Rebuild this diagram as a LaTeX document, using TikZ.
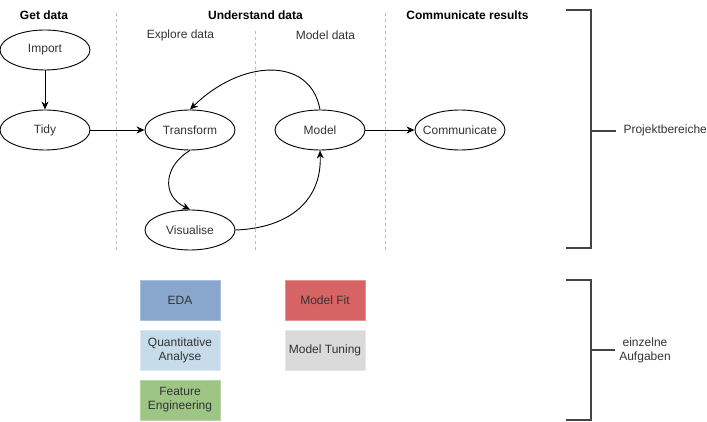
\documentclass[tikz,border=0pt]{standalone}
\usepackage{fontspec}
\setmainfont{Liberation Sans}
\usetikzlibrary{shapes.geometric,arrows.meta}
\definecolor{txt}{HTML}{333333}
\definecolor{edafill}{HTML}{89A6CC}
\definecolor{edadraw}{HTML}{A9C0DD}
\definecolor{qafill}{HTML}{C7DCEB}
\definecolor{qadraw}{HTML}{DCE8F2}
\definecolor{fefill}{HTML}{9DC684}
\definecolor{fedraw}{HTML}{B8D6A4}
\definecolor{mffill}{HTML}{D66464}
\definecolor{mfdraw}{HTML}{E49494}
\definecolor{mtfill}{HTML}{DADADA}
\definecolor{mtdraw}{HTML}{E8E8E8}
\definecolor{brk}{HTML}{444444}
\definecolor{dashc}{HTML}{BBBBBB}
\tikzset{
  stage/.style={ellipse,draw=black,line width=0.9pt,minimum width=90pt,minimum height=40pt,inner sep=0pt,font=\fontsize{12}{14}\selectfont,text=txt},
  title/.style={font=\fontsize{12}{14}\selectfont\bfseries,text=black},
  sub/.style={font=\fontsize{12}{14}\selectfont,text=txt},
  task/.style={rectangle,line width=0.8pt,minimum width=80pt,minimum height=40pt,inner sep=0pt,align=center,font=\fontsize{12}{14}\selectfont,text=txt},
  flow/.style={line width=0.9pt,-{Stealth[length=8pt,width=7pt,inset=2.5pt]}},
  sep/.style={dashc,line width=0.8pt,dash pattern=on 3pt off 3pt},
  brace/.style={brk,line width=1.8pt},
  lbl/.style={font=\fontsize{12}{14}\selectfont,text=txt}
}
\begin{document}
\begin{tikzpicture}[x=1pt,y=-1pt]
\useasboundingbox (0,0) rectangle (707,422);
% separators
\coordinate (s1a) at (116,13); \coordinate (s1b) at (116,250);
\coordinate (s2a) at (255,31); \coordinate (s2b) at (255,250);
\coordinate (s3a) at (385,13); \coordinate (s3b) at (385,250);
\draw[sep] (s1a) -- (s1b);
\draw[sep] (s2a) -- (s2b);
\draw[sep] (s3a) -- (s3b);
% titles
\node[title] (tget) at (44,15) {Get data};
\node[title] (tund) at (255.5,15) {Understand data};
\node[title] (tcom) at (467.5,15) {Communicate results};
\node[sub] (texp) at (180.5,35) {Explore data};
\node[sub] (tmod) at (325.5,35) {Model data};
% stages
\node[stage] (import) at (45,50) {Import};
\node[stage] (tidy) at (45,130) {Tidy};
\node[stage] (transform) at (190,130) {Transform};
\node[stage] (visualise) at (190,230) {Visualise};
\node[stage] (model) at (320,130) {Model};
\node[stage,inner xsep=-6pt] (communicate) at (460,130) {Communicate};
% flows
\draw[flow] (import) -- (tidy);
\draw[flow] (tidy) -- (transform);
\draw[flow] (model.north) .. controls (310,55) and (240,60) .. (transform.north);
\draw[flow] (transform.south) .. controls (165,165) and (160,195) .. (visualise.north);
\draw[flow] (visualise.east) .. controls (290,228) and (322,200) .. (model.south);
\draw[flow] (model) -- (communicate);
% tasks
\node[task,fill=edafill,draw=edadraw] (eda) at (180,300) {EDA};
\node[task,fill=qafill,draw=qadraw] (qa) at (180,350) {Quantitative\\Analyse};
\node[task,fill=fefill,draw=fedraw] (fe) at (180,400) {Feature\\Engineering};
\node[task,fill=mffill,draw=mfdraw] (mf) at (325,300) {Model Fit};
\node[task,fill=mtfill,draw=mtdraw] (mt) at (325,350) {Model Tuning};
% brackets
\coordinate (b1a) at (566,10); \coordinate (b1b) at (591,10);
\coordinate (b1c) at (591,248); \coordinate (b1d) at (566,248);
\coordinate (b1m) at (591,131); \coordinate (b1t) at (616,131);
\draw[brace] (b1a) -- (b1b) -- (b1c) -- (b1d);
\draw[brace] (b1m) -- (b1t);
\node[lbl,anchor=west] (pb) at (620,130) {Projektbereiche};
\coordinate (b2a) at (566,280); \coordinate (b2b) at (591,280);
\coordinate (b2c) at (591,420); \coordinate (b2d) at (566,420);
\coordinate (b2m) at (591,350); \coordinate (b2t) at (615,350);
\draw[brace] (b2a) -- (b2b) -- (b2c) -- (b2d);
\draw[brace] (b2m) -- (b2t);
\node[lbl,align=center] (ea) at (645,350) {einzelne\\Aufgaben};
\end{tikzpicture}
\end{document}
